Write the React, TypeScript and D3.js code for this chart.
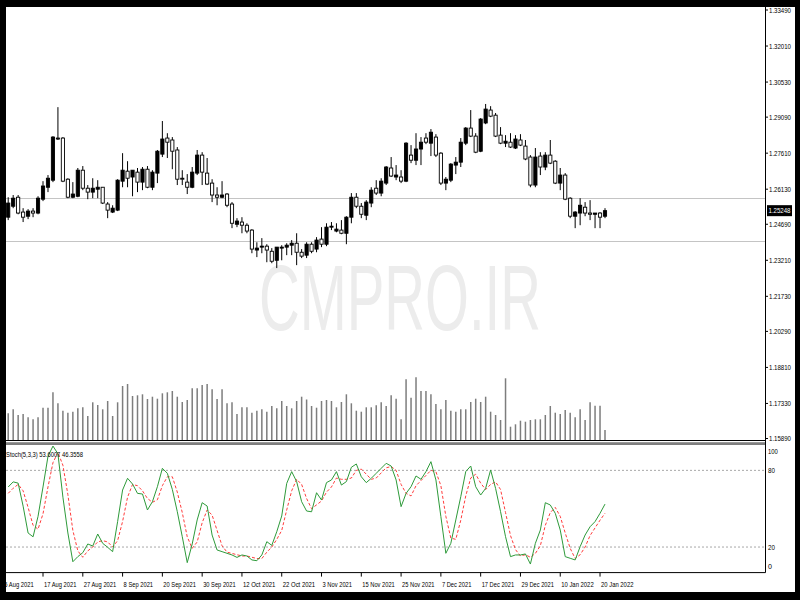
import * as d3 from "d3";

// daily candles, 5 Aug 2021 is index -1 (off-screen), 21 Jan 2022 is index 120
const open = [
  1.2498, 1.2543, 1.258, 1.2519, 1.2502, 1.2523, 1.2515, 1.2572, 1.2621, 1.265,
  1.2823, 1.2823, 1.2654, 1.258, 1.2584, 1.2691, 1.2617, 1.2601, 1.2613, 1.2621,
  1.2552, 1.2519, 1.2527, 1.2646, 1.2687, 1.2663, 1.2683, 1.2642, 1.2695, 1.2621,
  1.2679, 1.2757, 1.2823, 1.2815, 1.2774, 1.2658, 1.2642, 1.2621, 1.2679, 1.2753,
  1.2679, 1.2638, 1.2589, 1.258, 1.2593, 1.2552, 1.2469, 1.2478, 1.2465, 1.2445,
  1.2363, 1.2375, 1.2379, 1.2358, 1.2321, 1.2371, 1.2375, 1.2383, 1.2391, 1.2354,
  1.2342, 1.2387, 1.2367, 1.2408, 1.2387, 1.2457, 1.2441, 1.2445, 1.2432, 1.2498,
  1.258, 1.2543, 1.2506, 1.2556, 1.2617, 1.2597, 1.2638, 1.27, 1.2663, 1.2663,
  1.2646, 1.2753, 1.2732, 1.2778, 1.2823, 1.2802, 1.2827, 1.2761, 1.2638, 1.265,
  1.2712, 1.2724, 1.2802, 1.2864, 1.2831, 1.2769, 1.2885, 1.2938, 1.2917, 1.2835,
  1.2802, 1.2806, 1.2782, 1.2815, 1.279, 1.2745, 1.263, 1.2749, 1.2704, 1.2753,
  1.2728, 1.2638, 1.2671, 1.2576, 1.2502, 1.2515, 1.2539, 1.2515, 1.251, 1.2515,
  1.2502,
];
const high = [
  1.258, 1.2589, 1.2589, 1.2535, 1.2531, 1.2535, 1.2584, 1.2646, 1.2671, 1.2831,
  1.295, 1.2827, 1.2658, 1.2642, 1.27, 1.2708, 1.263, 1.2658, 1.265, 1.2621,
  1.256, 1.2547, 1.2654, 1.2761, 1.2728, 1.2691, 1.27, 1.2704, 1.2708, 1.2691,
  1.2774, 1.2893, 1.2843, 1.2827, 1.2786, 1.2691, 1.2675, 1.2704, 1.2774, 1.2765,
  1.2741, 1.2654, 1.2621, 1.2646, 1.2597, 1.256, 1.2494, 1.2498, 1.2473, 1.2449,
  1.2395, 1.2412, 1.2387, 1.2371, 1.2375, 1.2383, 1.2391, 1.2404, 1.2432, 1.2367,
  1.2395, 1.2395, 1.2416, 1.2457, 1.2473, 1.2478, 1.2473, 1.2486, 1.2502, 1.2597,
  1.2597, 1.2556, 1.2568, 1.2621, 1.265, 1.2658, 1.2708, 1.2745, 1.2712, 1.2691,
  1.2806, 1.2794, 1.2843, 1.2827, 1.2843, 1.286, 1.2839, 1.2765, 1.2663, 1.272,
  1.2745, 1.2823, 1.2868, 1.2938, 1.2843, 1.2905, 1.2963, 1.2954, 1.2926, 1.2868,
  1.2835, 1.2843, 1.2835, 1.2839, 1.2815, 1.2753, 1.2782, 1.2765, 1.2765, 1.2815,
  1.2732, 1.27, 1.2679, 1.258, 1.2523, 1.2576, 1.256, 1.2568, 1.2515, 1.2519,
  1.2535,
];
const low = [
  1.2486, 1.2535, 1.251, 1.2478, 1.249, 1.2498, 1.251, 1.2564, 1.2601, 1.2642,
  1.2815, 1.2642, 1.2576, 1.2576, 1.258, 1.2609, 1.2572, 1.2576, 1.2576, 1.2552,
  1.2494, 1.2515, 1.2523, 1.2621, 1.2621, 1.2584, 1.2601, 1.2609, 1.2617, 1.2609,
  1.2638, 1.2745, 1.2741, 1.2695, 1.263, 1.263, 1.2593, 1.2617, 1.2671, 1.263,
  1.263, 1.256, 1.2547, 1.2576, 1.2539, 1.2453, 1.2457, 1.2432, 1.2432, 1.235,
  1.2334, 1.235, 1.2313, 1.2309, 1.2289, 1.2321, 1.2342, 1.2342, 1.2301, 1.233,
  1.233, 1.235, 1.2354, 1.2375, 1.2379, 1.2445, 1.2436, 1.2428, 1.2387, 1.2473,
  1.2535, 1.2494, 1.2486, 1.2539, 1.2589, 1.2584, 1.263, 1.2663, 1.265, 1.2638,
  1.2642, 1.272, 1.2712, 1.2712, 1.2798, 1.2749, 1.2745, 1.263, 1.2609, 1.2642,
  1.2675, 1.2704, 1.2794, 1.2827, 1.2761, 1.2765, 1.288, 1.2909, 1.2827, 1.2798,
  1.2786, 1.2782, 1.2778, 1.279, 1.2732, 1.2621, 1.2621, 1.2671, 1.2691, 1.2716,
  1.2634, 1.2609, 1.2568, 1.2494, 1.2453, 1.2465, 1.2502, 1.2486, 1.2453, 1.2453,
  1.2494,
];
const close = [
  1.2556, 1.2576, 1.2515, 1.2498, 1.2523, 1.2515, 1.2576, 1.2626, 1.2658, 1.2827,
  1.2819, 1.2646, 1.258, 1.2593, 1.2691, 1.2617, 1.2601, 1.2617, 1.2621, 1.2556,
  1.2527, 1.2535, 1.265, 1.2691, 1.2658, 1.2691, 1.2642, 1.2695, 1.2621, 1.2683,
  1.2769, 1.2819, 1.2806, 1.2769, 1.2654, 1.2654, 1.2621, 1.2683, 1.2753, 1.2683,
  1.2634, 1.2589, 1.258, 1.2589, 1.2547, 1.2473, 1.2482, 1.2465, 1.2441, 1.2367,
  1.2371, 1.2379, 1.2363, 1.2317, 1.2375, 1.2375, 1.2383, 1.2391, 1.2354, 1.2338,
  1.2387, 1.2358, 1.2404, 1.2387, 1.2457, 1.2461, 1.2449, 1.2432, 1.2498, 1.258,
  1.2543, 1.251, 1.256, 1.2609, 1.2597, 1.2646, 1.2704, 1.2667, 1.2671, 1.2646,
  1.2802, 1.2732, 1.2778, 1.2806, 1.2806, 1.2847, 1.2753, 1.2638, 1.2654, 1.2716,
  1.2724, 1.2806, 1.2864, 1.2831, 1.2765, 1.2901, 1.2942, 1.2913, 1.2831, 1.2802,
  1.281, 1.2786, 1.2819, 1.2794, 1.2737, 1.263, 1.2745, 1.2704, 1.2753, 1.272,
  1.2638, 1.2671, 1.2572, 1.2502, 1.2519, 1.2547, 1.2515, 1.251, 1.2515, 1.2498,
  1.25248,
];
// tick volume, thousands
const volume = [
  26.7, 30.7, 25, 26, 22.7, 20.7, 22.7, 32.3, 32.3, 47.7,
  36.7, 29.3, 27.3, 28.3, 31.7, 32.7, 24, 37.7, 35, 30.7,
  39, 24, 37.7, 54, 56, 44, 44.7, 45.7, 41, 43.3,
  41.3, 46.7, 47.7, 49, 43.3, 38, 40, 51.7, 51.7, 55,
  56, 50.7, 41, 50.7, 36.7, 37.7, 26, 32.7, 32.7, 27.3,
  29.3, 30.7, 28.3, 34, 31.7, 39, 34, 31.7, 39, 43.3,
  40.5, 34, 32.3, 39, 40, 39, 32.7, 38, 45.7, 36.7,
  29.3, 28.3, 32.7, 32.7, 34.7, 37.7, 34, 44.7, 41.3, 20.7,
  60.7, 42.3, 62.7, 49, 49, 45.7, 36, 30.7, 40, 29.3,
  28.3, 30.7, 30.7, 38, 41.3, 38, 43.3, 28.3, 25, 20,
  61.7, 13.3, 15.7, 19.3, 18.3, 20, 20.7, 20.7, 25, 34,
  27.3, 26, 30, 27.3, 22.7, 30.7, 20, 37.7, 34.3, 34.3,
  10,
];
const stochMain = [
  67, 71, 70, 52, 31, 28, 44, 67, 91, 99,
  93, 59, 31, 8.5, 12.5, 15.6, 22.4, 20.8, 30.2, 22.9,
  19.8, 16.4, 39.9, 64.6, 73.8, 69.3, 62, 61.5, 49, 55.5,
  67.2, 81.6, 77.7, 65.1, 47.7, 28.1, 7.8, 22.4, 41.2, 54.7,
  52.1, 29.4, 17.7, 16.4, 15.1, 13.8, 11.9, 13.8, 13, 9.9,
  9.3, 13.8, 24.2, 21.3, 32, 44.3, 69.8, 79, 71.2, 55.5,
  48.2, 47.6, 62.5, 56.8, 70.4, 72.5, 79, 68.5, 71.2, 82.4,
  85, 75, 70.4, 73.8, 77.7, 81.6, 85.5, 83.4, 72.5, 51.6,
  62, 67.2, 75.6, 73, 79, 86.8, 72.5, 43.8, 15.1, 22.9,
  41.2, 59.4, 79, 83.4, 67.2, 60.7, 65.9, 80.3, 65.9, 47.7,
  28.1, 12.5, 13.8, 13.8, 14.6, 6.7, 22.9, 33.3, 54.7, 52.9,
  46.4, 33.3, 12.5, 11.2, 9.9, 20.3, 29.4, 35.9, 39.9, 46.4,
  53.6,
];
const stochSignal = [
  62, 66, 69, 64, 51, 37, 34, 46, 67, 86,
  94, 84, 61, 33, 17, 12, 17, 20, 24, 25,
  24, 20, 25, 40, 59, 69, 68, 64, 58, 55,
  57, 68, 75, 75, 63, 47, 28, 19, 24, 39,
  49, 45, 33, 21, 16, 15, 14, 13, 13, 12,
  11, 11, 16, 20, 26, 33, 49, 64, 73, 69,
  58, 50, 53, 56, 63, 67, 74, 73, 73, 74,
  80, 81, 77, 73, 74, 78, 82, 83, 80, 69,
  62, 60, 68, 72, 76, 80, 79, 68, 44, 27,
  26, 41, 60, 74, 77, 70, 65, 69, 71, 65,
  47, 29, 18, 13, 14, 12, 15, 21, 37, 47,
  51, 44, 31, 19, 11, 14, 20, 29, 35, 41,
  46.4,
];

const dateLabels = [
  "5 Aug 2021", "17 Aug 2021", "27 Aug 2021", "8 Sep 2021", "20 Sep 2021", "30 Sep 2021",
  "12 Oct 2021", "22 Oct 2021", "3 Nov 2021", "15 Nov 2021", "25 Nov 2021", "7 Dec 2021",
  "17 Dec 2021", "29 Dec 2021", "10 Jan 2022", "20 Jan 2022",
];
const dateIndex = [-1, 7, 15, 23, 31, 39, 47, 55, 63, 71, 79, 87, 95, 103, 111, 119];
const priceTicks = [
  1.3349, 1.3201, 1.3053, 1.2909, 1.2761, 1.2613, 1.2469, 1.2321, 1.2173, 1.2029, 1.1881, 1.1733, 1.1589,
];
const hLines = [1.2576, 1.2399];
const stochLevels = [80, 20];
const stochAxis = [100, 80, 20, 0];
const lastPrice = "1.25248";
const stochTitle = "Stoch(5,3,3) 53.6007 46.3558";

const W = 800;
const H = 600;
const left = 6;
const top = 7;
const axisX = 765;
const mainBottom = 440;
const subTop = 444;
const subBottom = 572.6;
const font = "'Liberation Sans', Arial, sans-serif";
// narrow MT4 label font: squeeze text to ~2.95px per char
const squeeze = (s: string) => s.length * 2.95;

export default function App() {
  const x = d3.scaleLinear().domain([0, 120]).range([8.2, 605]);
  const y = d3.scaleLinear().domain([1.1589, 1.3349]).range([438.5, 10]);
  const yVol = d3.scaleLinear().domain([0, 70]).range([mainBottom, mainBottom - 70]);
  const yStoch = d3.scaleLinear().domain([0, 100]).range([subBottom, 444.8]);

  const kLine = d3
    .line<number>()
    .x((_, i) => x(i))
    .y((d) => yStoch(d));

  const idx = d3.range(open.length);
  const lastY = y(close[close.length - 1]);

  return (
    <div style={{ position: "absolute", left: 0, top: 0 }}>
      <svg width={W} height={H} style={{ display: "block", fontFamily: font }}>
        <defs>
          <clipPath id="mainClip">
            <rect x={left} y={top} width={axisX - left} height={mainBottom - top} />
          </clipPath>
          <clipPath id="subClip">
            <rect x={left} y={subTop} width={axisX - left} height={subBottom - subTop} />
          </clipPath>
        </defs>
        <rect width={W} height={H} fill="#fff" />

        {/* watermark */}
        <text
          x={400}
          y={330}
          textAnchor="middle"
          fontSize={92}
          fill="#ececec"
          textLength={282}
          lengthAdjust="spacingAndGlyphs"
        >
          CMPRO.IR
        </text>

        {/* horizontal lines */}
        {hLines.map((p) => (
          <line key={p} x1={left} x2={axisX} y1={Math.round(y(p)) + 0.5} y2={Math.round(y(p)) + 0.5} stroke="#c4c4c4" />
        ))}

        {/* volumes */}
        <g clipPath="url(#mainClip)">
          {idx.map((i) => (
            <line key={i} x1={x(i)} x2={x(i)} y1={yVol(0)} y2={yVol(volume[i])} stroke="#7d7d7d" strokeWidth={1.5} />
          ))}
        </g>

        {/* candles */}
        <g clipPath="url(#mainClip)">
          {idx.map((i) => {
            const cx = x(i);
            const bull = close[i] >= open[i];
            const y0 = y(Math.max(open[i], close[i]));
            const y1 = y(Math.min(open[i], close[i]));
            return (
              <g key={i}>
                <line x1={cx} x2={cx} y1={y(high[i])} y2={y(low[i])} stroke="#000" strokeWidth={1} />
                <rect
                  x={cx - 1.6}
                  y={y0}
                  width={3.2}
                  height={Math.max(0.8, y1 - y0)}
                  fill={bull ? "#000" : "#fff"}
                  stroke="#000"
                  strokeWidth={0.9}
                />
              </g>
            );
          })}
        </g>

        {/* separator */}
        <line x1={left} x2={axisX} y1={440.5} y2={440.5} stroke="#000" />
        <line x1={left} x2={axisX} y1={442.5} y2={442.5} stroke="#9a9a9a" />
        <line x1={left} x2={axisX} y1={444} y2={444} stroke="#000" />

        {/* stochastic */}
        {stochLevels.map((v) => (
          <line
            key={v}
            x1={left}
            x2={axisX}
            y1={yStoch(v)}
            y2={yStoch(v)}
            stroke="#a8a8a8"
            strokeDasharray="2,2"
          />
        ))}
        <g clipPath="url(#subClip)">
          <path d={kLine(stochSignal) ?? ""} fill="none" stroke="#ff3c3c" strokeWidth={1} strokeDasharray="3,2" />
          <path d={kLine(stochMain) ?? ""} fill="none" stroke="#2e9a3a" strokeWidth={1} />
        </g>
        <text x={6} y={457} fontSize={8} fill="#000" textLength={77} lengthAdjust="spacingAndGlyphs">
          {stochTitle}
        </text>

        {/* axes */}
        <line x1={axisX + 0.5} x2={axisX + 0.5} y1={top} y2={subBottom} stroke="#000" />
        <line x1={left} x2={axisX + 0.5} y1={subBottom} y2={subBottom} stroke="#000" />
        {priceTicks.map((p) => (
          <g key={p}>
            <line x1={axisX} x2={axisX + 3} y1={y(p)} y2={y(p)} stroke="#000" />
            <text
              x={769}
              y={y(p)}
              dy="0.35em"
              fontSize={8}
              fill="#000"
              textLength={22}
              lengthAdjust="spacingAndGlyphs"
            >
              {p.toFixed(5)}
            </text>
          </g>
        ))}
        <rect x={767} y={lastY - 5.5} width={25} height={11} fill="#000" />
        <text
          x={768.5}
          y={lastY}
          dy="0.35em"
          fontSize={8}
          fill="#fff"
          textLength={22}
          lengthAdjust="spacingAndGlyphs"
        >
          {lastPrice}
        </text>
        {stochAxis.map((v) => (
          <text
            key={v}
            x={768}
            y={Math.min(566, Math.max(451, yStoch(v)))}
            dy="0.35em"
            fontSize={8}
            fill="#000"
            textLength={squeeze(String(v)) + 1}
            lengthAdjust="spacingAndGlyphs"
          >
            {v}
          </text>
        ))}
        {dateIndex.map((d, k) => (
          <g key={d}>
            <line x1={x(d)} x2={x(d)} y1={subBottom} y2={subBottom + 4} stroke="#000" />
            <text
              x={x(d) + 1}
              y={587}
              fontSize={7}
              fill="#000"
              textLength={squeeze(dateLabels[k])}
              lengthAdjust="spacingAndGlyphs"
            >
              {dateLabels[k]}
            </text>
          </g>
        ))}

        {/* frame */}
        <rect x={0} y={0} width={W} height={top} fill="#000" />
        <rect x={0} y={0} width={left} height={H} fill="#000" />
        <rect x={795} y={0} width={5} height={H} fill="#000" />
        <rect x={0} y={592} width={W} height={8} fill="#000" />
      </svg>
    </div>
  );
}
